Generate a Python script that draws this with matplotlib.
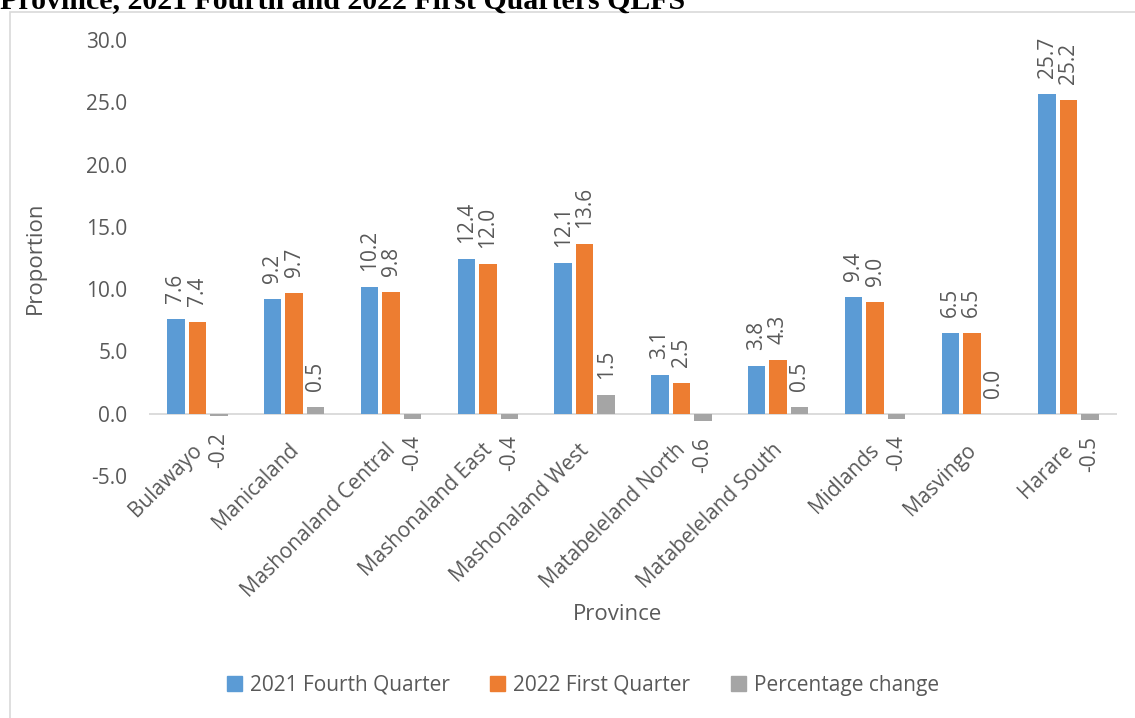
import matplotlib
matplotlib.use("Agg")
import matplotlib.pyplot as plt
import matplotlib.patches as mpatches
import numpy as np

provinces = ["Bulawayo", "Manicaland", "Mashonaland Central", "Mashonaland East",
             "Mashonaland West", "Matabeleland North", "Matabeleland South",
             "Midlands", "Masvingo", "Harare"]
q4_2021 = [7.6, 9.2, 10.2, 12.4, 12.1, 3.1, 3.8, 9.4, 6.5, 25.7]
q1_2022 = [7.4, 9.7, 9.8, 12.0, 13.6, 2.5, 4.3, 9.0, 6.5, 25.2]
pct_change = [-0.2, 0.5, -0.4, -0.4, 1.5, -0.6, 0.5, -0.4, 0.0, -0.5]
series_names = ["2021 Fourth Quarter", "2022 First Quarter", "Percentage change"]
yticks = [-5, 0, 5, 10, 15, 20, 25, 30]

C_BLUE = "#5B9BD5"
C_ORANGE = "#ED7D31"
C_GRAY = "#A5A5A5"
TXT = "#595959"
FONT = "Open Sans"
FS = 15

plt.rcParams["font.family"] = [FONT, "DejaVu Sans"]

W, H = 1135, 718
fig = plt.figure(figsize=(W / 100, H / 100), dpi=100)

# outer chart frame
fig.patches.append(mpatches.Rectangle((10 / W, -0.01), 1.0, 1 - 12 / H + 0.01,
                                      transform=fig.transFigure, fill=False,
                                      edgecolor="#D9D9D9", lw=1.2))

# caption of the source document, cut off at the top edge
fig.text(0 / W, 1 - 8 / H, "Province, 2021 Fourth and 2022 First Quarters QLFS",
         family="Liberation Serif", fontweight="bold", fontsize=21.5,
         ha="left", va="baseline", color="black")

ax = fig.add_axes([149 / W, 1 - 476 / H, (1117 - 149) / W, (476 - 40) / H])

x = np.arange(len(provinces))
bw = 0.18
step = 0.222
series = [q4_2021, q1_2022, pct_change]
colors = [C_BLUE, C_ORANGE, C_GRAY]

for k, (vals, col) in enumerate(zip(series, colors)):
    xs = x + (k - 1) * step
    ax.bar(xs, vals, bw, color=col, zorder=2)
    for xi, v in zip(xs, vals):
        if v >= 0:
            ax.annotate(f"{v:.1f}", (xi, v), xytext=(0, 16), textcoords="offset pixels",
                        rotation=90, ha="center", va="bottom", fontsize=FS, color=TXT)
        else:
            ax.annotate(f"{v:.1f}", (xi, v), xytext=(0, -16), textcoords="offset pixels",
                        rotation=90, ha="center", va="top", fontsize=FS, color=TXT)

ax.set_xlim(-0.5, len(provinces) - 0.5)
ax.set_ylim(-5, 30)
ax.set_yticks(yticks)
ax.set_yticklabels([f"{t:.1f}" for t in yticks], fontsize=FS, color=TXT)
ax.tick_params(axis="y", length=0, pad=15.5)
ax.set_xticks([])
for s in ["top", "right", "left", "bottom"]:
    ax.spines[s].set_visible(False)
ax.axhline(0, color="#D9D9D9", lw=1.3, zorder=1)

for xi, name in zip(x, provinces):
    ax.annotate(name, (xi, 0), xytext=(-6, -26), textcoords="offset pixels",
                rotation=45, rotation_mode="anchor", ha="right", va="top",
                fontsize=FS, color=TXT)

fig.text(618 / W, 1 - 614 / H, "Province", ha="center", va="center",
         fontsize=FS + 1, color=TXT)
fig.text(35 / W, 1 - 258 / H, "Proportion", ha="center", va="center",
         rotation=90, fontsize=FS + 1, color=TXT)

handles = [mpatches.Patch(color=c, label=n) for c, n in zip(colors, series_names)]
leg = fig.legend(handles=handles, loc="center", bbox_to_anchor=(583 / W, 1 - 685 / H),
                 ncol=3, frameon=False, fontsize=FS, handlelength=0.7,
                 handleheight=0.7, handletextpad=0.4, columnspacing=1.95)
for t in leg.get_texts():
    t.set_color(TXT)

fig.savefig("out.png", dpi=100)
